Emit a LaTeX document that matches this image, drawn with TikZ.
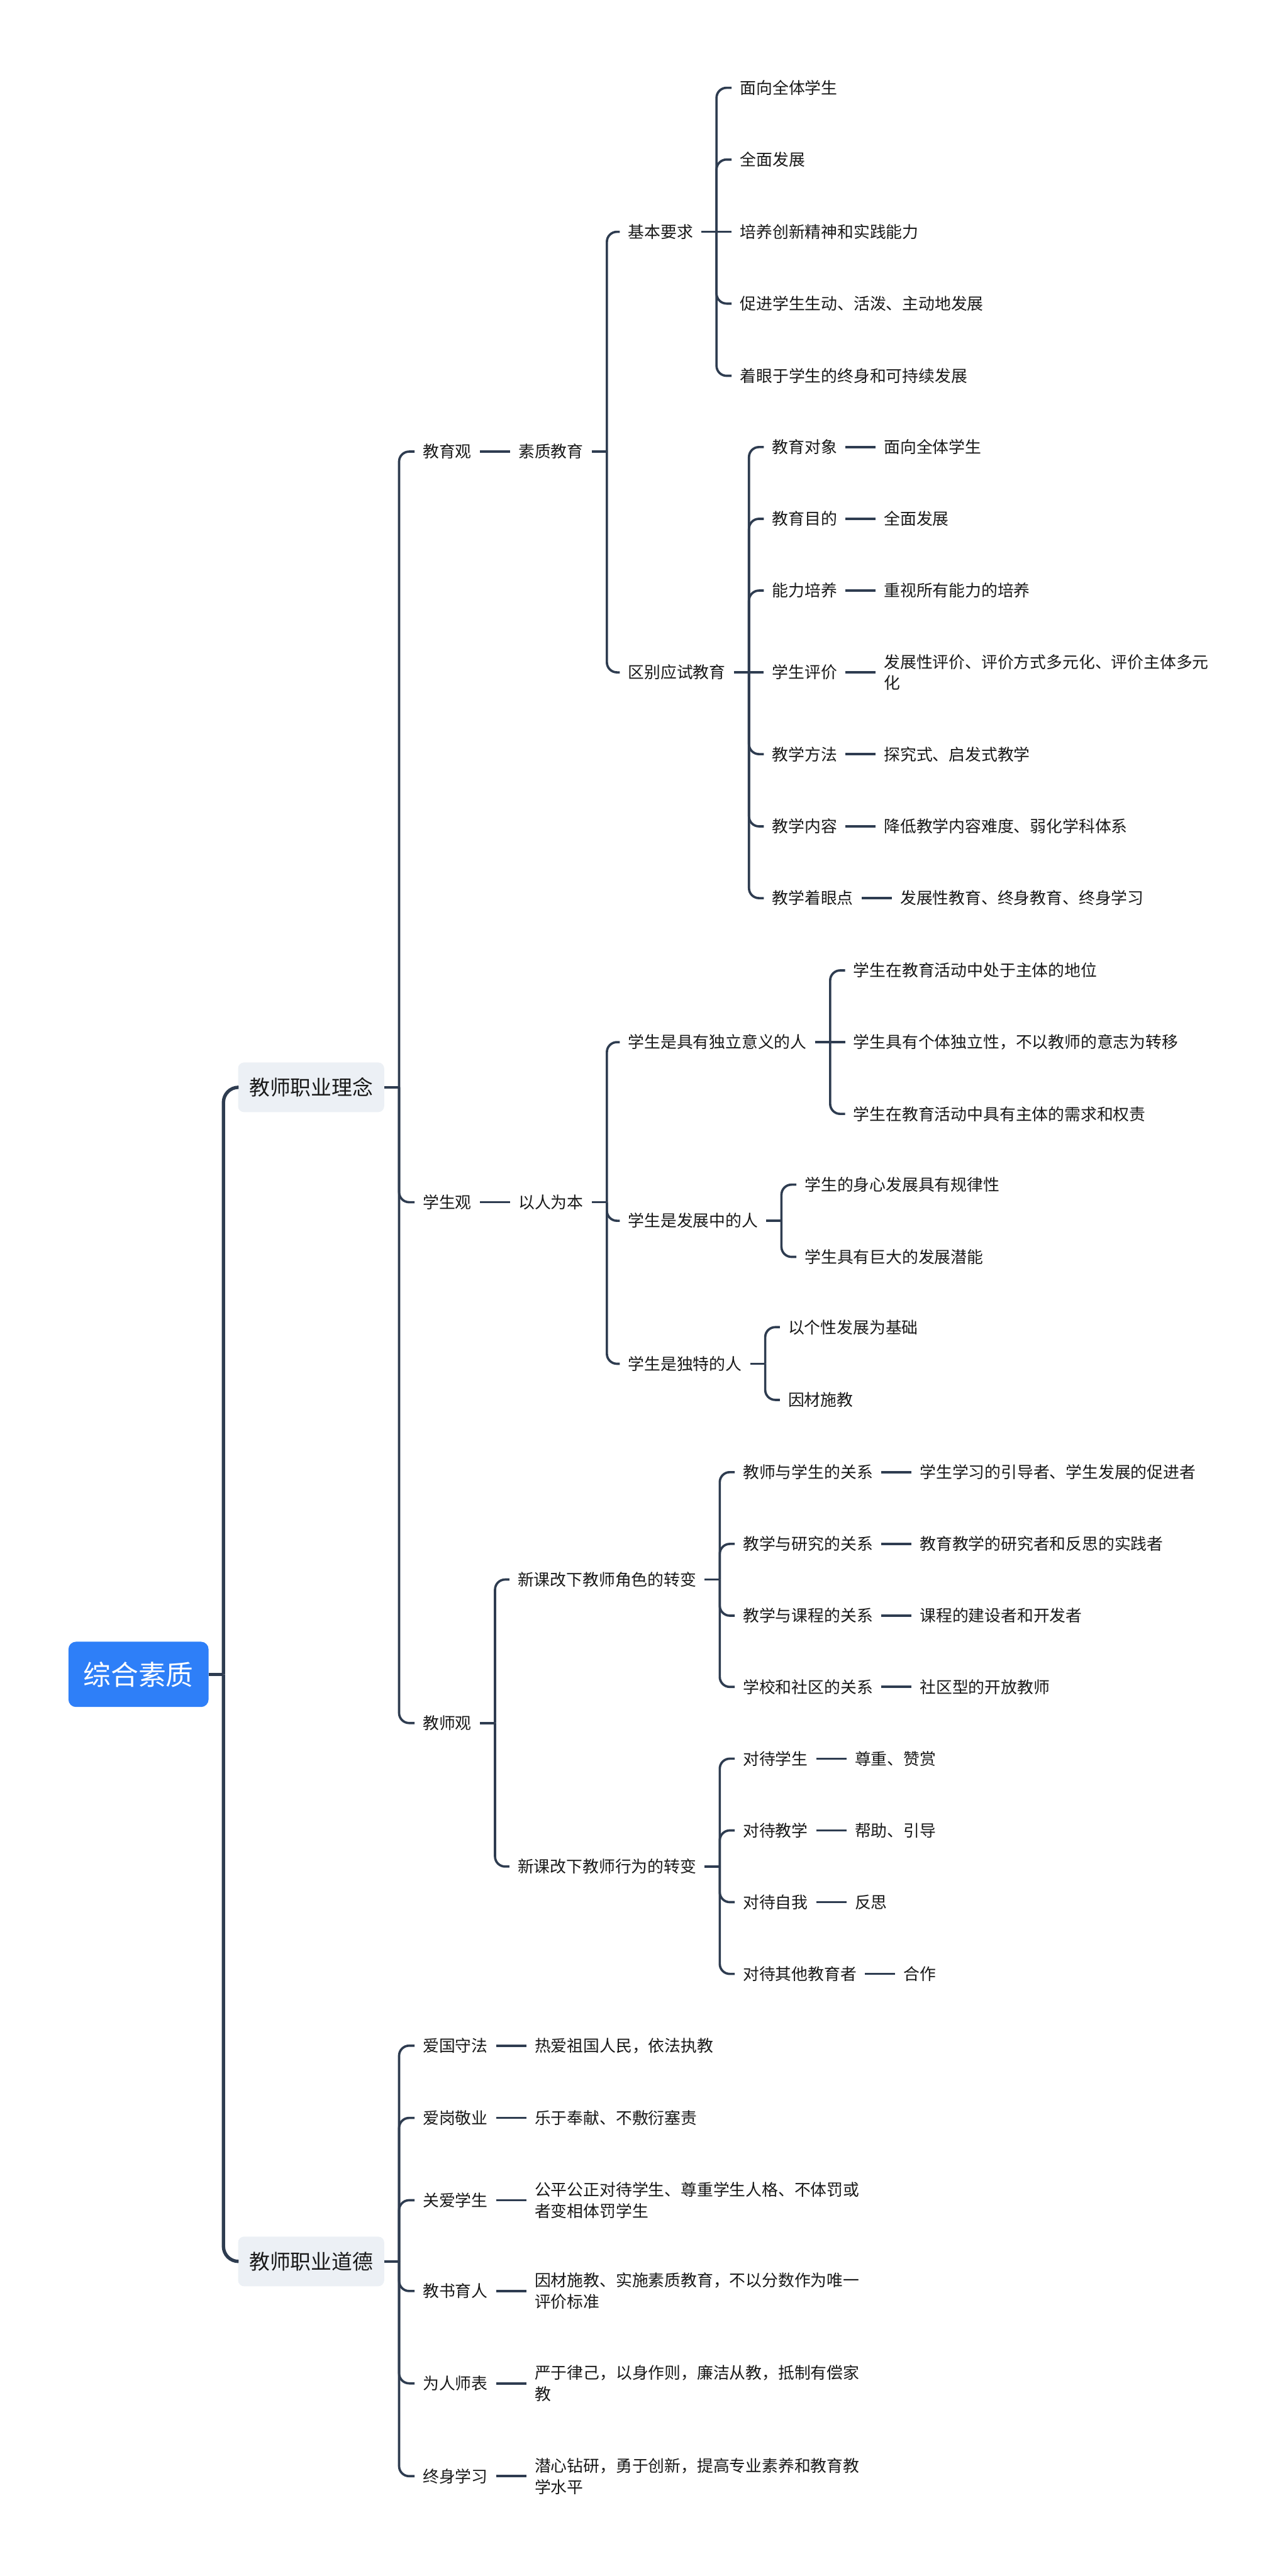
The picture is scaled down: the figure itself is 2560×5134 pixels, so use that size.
\documentclass[tikz,border=0pt]{standalone}
\usepackage{fontspec}
\setmainfont{Noto Sans CJK SC}
\usepackage{xcolor}
\usepackage{tikz}
\usetikzlibrary{positioning}
\definecolor{rootblue}{RGB}{46,127,248}
\definecolor{boxgray}{RGB}{236,240,245}
\definecolor{wire}{RGB}{46,60,80}
\definecolor{ink}{RGB}{25,25,25}

\tikzset{
  topic/.style={fill=rootblue, text=white, rounded corners=0.15cm,
    minimum width=2.79cm, minimum height=1.3cm,
    font=\fontsize{15.6}{18}\selectfont},
  branch/.style={fill=boxgray, text=ink, rounded corners=0.12cm,
    minimum width=2.91cm, minimum height=0.99cm,
    font=\fontsize{11.7}{14}\selectfont},
  leaf/.style={anchor=west, text=ink, inner xsep=0.16cm, inner ysep=0.05cm,
    align=left, font=\fontsize{9.2}{12}\selectfont},
  link/.style={draw=wire, line width=1.3pt, rounded corners=0.2cm},
  mainlink/.style={draw=wire, line width=1.9pt, rounded corners=0.3cm},
}

\begin{document}
\begin{tikzpicture}[x=0.01cm, y=-0.01cm]
    \useasboundingbox (0,0) rectangle (2560,5134);
    % Root and the two main branches
    \node[topic] (root) at (276,3337) {综合素质};
    \node[branch] (idea) at (620,2167) {教师职业理念};
    \node[branch] (ethic) at (620,4507) {教师职业道德};
    \draw[mainlink] (root.east) -- ++(29,0) coordinate (rootfork);
    \draw[mainlink] (rootfork) |- (idea.west);
    \draw[mainlink] (rootfork) |- (ethic.west);

    % Teacher professional ideas
    \draw[link] (idea.east) -- ++(29,0) coordinate (ideafork);
    \node[leaf] (jyg) at (826,900) {教育观};
    \node[leaf] (xsg) at (826,2396) {学生观};
    \node[leaf] (jsg) at (826,3434) {教师观};
    \draw[link] (ideafork) |- (jyg.west);
    \draw[link] (ideafork) |- (xsg.west);
    \draw[link] (ideafork) |- (jsg.west);

    % Education view
    \node[leaf,right=0.6cm of jyg] (szjy) {素质教育};
    \draw[link] (jyg.east) -- (szjy.west);
    \draw[link] (szjy.east) -- ++(30,0) coordinate (szjyfork);
    \node[leaf] (jbyq) at (1235,462) {基本要求};
    \node[leaf] (qbys) at (1235,1340) {区别应试教育};
    \draw[link] (szjyfork) |- (jbyq.west);
    \draw[link] (szjyfork) |- (qbys.west);

    % Basic requirements
    \draw[link] (jbyq.east) -- ++(30,0) coordinate (jbyqfork);
    \node[leaf] (jb1) at (1458,175) {面向全体学生};
    \node[leaf] (jb2) at (1458,318) {全面发展};
    \node[leaf] (jb3) at (1458,462) {培养创新精神和实践能力};
    \node[leaf] (jb4) at (1458,605) {促进学生生动、活泼、主动地发展};
    \node[leaf] (jb5) at (1458,749) {着眼于学生的终身和可持续发展};
    \draw[link] (jbyqfork) |- (jb1.west);
    \draw[link] (jbyqfork) |- (jb2.west);
    \draw[link] (jbyqfork) -- (jb3.west);
    \draw[link] (jbyqfork) |- (jb4.west);
    \draw[link] (jbyqfork) |- (jb5.west);

    % Difference from exam-oriented education
    \draw[link] (qbys.east) -- ++(30,0) coordinate (qbysfork);
    \node[leaf] (qb1) at (1522,891) {教育对象};
    \node[leaf] (qb2) at (1522,1034) {教育目的};
    \node[leaf] (qb3) at (1522,1177) {能力培养};
    \node[leaf] (qb4) at (1522,1340) {学生评价};
    \node[leaf] (qb5) at (1522,1503) {教学方法};
    \node[leaf] (qb6) at (1522,1647) {教学内容};
    \node[leaf] (qb7) at (1522,1790) {教学着眼点};
    \node[leaf,right=0.6cm of qb1] (qbv1) {面向全体学生};
    \node[leaf,right=0.6cm of qb2] (qbv2) {全面发展};
    \node[leaf,right=0.6cm of qb3] (qbv3) {重视所有能力的培养};
    \node[leaf,right=0.6cm of qb4] (qbv4) {发展性评价、评价方式多元化、评价主体多元\\化};
    \node[leaf,right=0.6cm of qb5] (qbv5) {探究式、启发式教学};
    \node[leaf,right=0.6cm of qb6] (qbv6) {降低教学内容难度、弱化学科体系};
    \node[leaf,right=0.6cm of qb7] (qbv7) {发展性教育、终身教育、终身学习};
    \draw[link] (qbysfork) |- (qb1.west);
    \draw[link] (qbysfork) |- (qb2.west);
    \draw[link] (qbysfork) |- (qb3.west);
    \draw[link] (qbysfork) -- (qb4.west);
    \draw[link] (qbysfork) |- (qb5.west);
    \draw[link] (qbysfork) |- (qb6.west);
    \draw[link] (qbysfork) |- (qb7.west);
    \draw[link] (qb1.east) -- (qbv1.west);
    \draw[link] (qb2.east) -- (qbv2.west);
    \draw[link] (qb3.east) -- (qbv3.west);
    \draw[link] (qb4.east) -- (qbv4.west);
    \draw[link] (qb5.east) -- (qbv5.west);
    \draw[link] (qb6.east) -- (qbv6.west);
    \draw[link] (qb7.east) -- (qbv7.west);

    % Student view
    \node[leaf,right=0.6cm of xsg] (yrwb) {以人为本};
    \draw[link] (xsg.east) -- (yrwb.west);
    \draw[link] (yrwb.east) -- ++(30,0) coordinate (yrwbfork);
    \node[leaf] (dlyy) at (1235,2077) {学生是具有独立意义的人};
    \node[leaf] (fzz) at (1235,2433) {学生是发展中的人};
    \node[leaf] (dtd) at (1235,2718) {学生是独特的人};
    \draw[link] (yrwbfork) |- (dlyy.west);
    \draw[link] (yrwbfork) |- (fzz.west);
    \draw[link] (yrwbfork) |- (dtd.west);
    % independent
    \draw[link] (dlyy.east) -- ++(30,0) coordinate (dlyyfork);
    \node[leaf] (dl1) at (1684,1934) {学生在教育活动中处于主体的地位};
    \node[leaf] (dl2) at (1684,2077) {学生具有个体独立性，不以教师的意志为转移};
    \node[leaf] (dl3) at (1684,2220) {学生在教育活动中具有主体的需求和权责};
    \draw[link] (dlyyfork) |- (dl1.west);
    \draw[link] (dlyyfork) -- (dl2.west);
    \draw[link] (dlyyfork) |- (dl3.west);
    % developing
    \draw[link] (fzz.east) -- ++(30,0) coordinate (fzzfork);
    \node[leaf] (fz1) at (1587,2361) {学生的身心发展具有规律性};
    \node[leaf] (fz2) at (1587,2505) {学生具有巨大的发展潜能};
    \draw[link] (fzzfork) |- (fz1.west);
    \draw[link] (fzzfork) |- (fz2.west);
    % unique
    \draw[link] (dtd.east) -- ++(30,0) coordinate (dtdfork);
    \node[leaf] (dt1) at (1554,2645) {以个性发展为基础};
    \node[leaf] (dt2) at (1554,2790) {因材施教};
    \draw[link] (dtdfork) |- (dt1.west);
    \draw[link] (dtdfork) |- (dt2.west);

    % Teacher view
    \draw[link] (jsg.east) -- ++(30,0) coordinate (jsgfork);
    \node[leaf] (jsjs) at (1015,3148) {新课改下教师角色的转变};
    \node[leaf] (jsxw) at (1015,3720) {新课改下教师行为的转变};
    \draw[link] (jsgfork) |- (jsjs.west);
    \draw[link] (jsgfork) |- (jsxw.west);
    % roles
    \draw[link] (jsjs.east) -- ++(30,0) coordinate (jsjsfork);
    \node[leaf] (js1) at (1464,2934) {教师与学生的关系};
    \node[leaf] (js2) at (1464,3077) {教学与研究的关系};
    \node[leaf] (js3) at (1464,3220) {教学与课程的关系};
    \node[leaf] (js4) at (1464,3362) {学校和社区的关系};
    \node[leaf,right=0.6cm of js1] (jsv1) {学生学习的引导者、学生发展的促进者};
    \node[leaf,right=0.6cm of js2] (jsv2) {教育教学的研究者和反思的实践者};
    \node[leaf,right=0.6cm of js3] (jsv3) {课程的建设者和开发者};
    \node[leaf,right=0.6cm of js4] (jsv4) {社区型的开放教师};
    \foreach \i in {1,...,4} {
      \draw[link] (jsjsfork) |- (js\i.west);
      \draw[link] (js\i.east) -- (jsv\i.west);
    }
    % behaviour
    \draw[link] (jsxw.east) -- ++(30,0) coordinate (jsxwfork);
    \node[leaf] (xw1) at (1464,3505) {对待学生};
    \node[leaf] (xw2) at (1464,3648) {对待教学};
    \node[leaf] (xw3) at (1464,3791) {对待自我};
    \node[leaf] (xw4) at (1464,3934) {对待其他教育者};
    \node[leaf,right=0.6cm of xw1] (xwv1) {尊重、赞赏};
    \node[leaf,right=0.6cm of xw2] (xwv2) {帮助、引导};
    \node[leaf,right=0.6cm of xw3] (xwv3) {反思};
    \node[leaf,right=0.6cm of xw4] (xwv4) {合作};
    \foreach \i in {1,...,4} {
      \draw[link] (jsxwfork) |- (xw\i.west);
      \draw[link] (xw\i.east) -- (xwv\i.west);
    }

    % Teacher professional ethics
    \draw[link] (ethic.east) -- ++(29,0) coordinate (ethicfork);
    \node[leaf] (dd1) at (826,4077) {爱国守法};
    \node[leaf] (dd2) at (826,4221) {爱岗敬业};
    \node[leaf] (dd3) at (826,4385) {关爱学生};
    \node[leaf] (dd4) at (826,4566) {教书育人};
    \node[leaf] (dd5) at (826,4750) {为人师表};
    \node[leaf] (dd6) at (826,4935) {终身学习};
    \node[leaf,right=0.6cm of dd1] (ddv1) {热爱祖国人民，依法执教};
    \node[leaf,right=0.6cm of dd2] (ddv2) {乐于奉献、不敷衍塞责};
    \node[leaf,right=0.6cm of dd3] (ddv3) {公平公正对待学生、尊重学生人格、不体罚或\\者变相体罚学生};
    \node[leaf,right=0.6cm of dd4] (ddv4) {因材施教、实施素质教育，不以分数作为唯一\\评价标准};
    \node[leaf,right=0.6cm of dd5] (ddv5) {严于律己，以身作则，廉洁从教，抵制有偿家\\教};
    \node[leaf,right=0.6cm of dd6] (ddv6) {潜心钻研，勇于创新，提高专业素养和教育教\\学水平};
    \foreach \i in {1,...,6} {
      \draw[link] (ethicfork) |- (dd\i.west);
      \draw[link] (dd\i.east) -- (ddv\i.west);
    }
  \end{tikzpicture}
\end{document}
